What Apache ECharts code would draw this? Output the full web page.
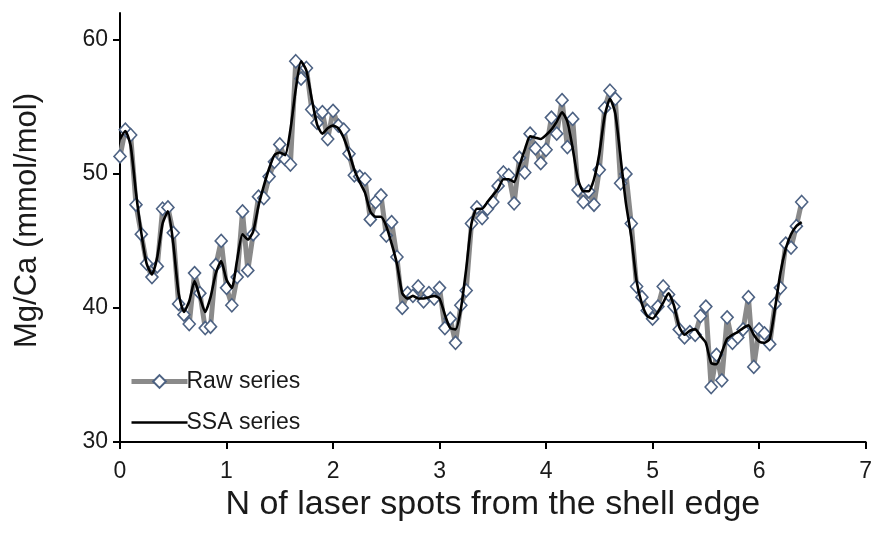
<!DOCTYPE html>
<html>
<head>
<meta charset="utf-8">
<script src="https://cdn.jsdelivr.net/npm/echarts@6/dist/echarts.min.js"></script>
<style>
html,body{margin:0;padding:0;background:#fff;}
#chart{width:875px;height:534px;}
</style>
</head>
<body>
<div id="chart"></div>
<script>
// N of laser spots from the shell edge
const spotPos = [
0.00,0.05,0.10,0.15,0.20,0.25,0.30,0.35,0.40,0.45,
0.50,0.55,0.60,0.65,0.70,0.75,0.80,0.85,0.90,0.95,
1.00,1.05,1.10,1.15,1.20,1.25,1.30,1.35,1.40,1.45,
1.50,1.55,1.60,1.65,1.70,1.75,1.80,1.85,1.90,1.95,
2.00,2.05,2.10,2.15,2.20,2.25,2.30,2.35,2.40,2.45,
2.50,2.55,2.60,2.65,2.70,2.75,2.80,2.85,2.90,2.95,
3.00,3.05,3.10,3.15,3.20,3.25,3.30,3.35,3.40,3.45,
3.50,3.55,3.60,3.65,3.70,3.75,3.80,3.85,3.90,3.95,
4.00,4.05,4.10,4.15,4.20,4.25,4.30,4.35,4.40,4.45,
4.50,4.55,4.60,4.65,4.70,4.75,4.80,4.85,4.90,4.95,
5.00,5.05,5.10,5.15,5.20,5.25,5.30,5.35,5.40,5.45,
5.50,5.55,5.60,5.65,5.70,5.75,5.80,5.85,5.90,5.95,
6.00,6.05,6.10,6.15,6.20,6.25,6.30,6.35,6.40
];
// Raw Mg/Ca (mmol/mol)
const rawSeries = [
51.3,53.3,52.9,47.7,45.5,43.3,42.3,43.1,47.4,47.5,
45.6,40.3,39.5,38.8,42.6,41.1,38.5,38.6,43.2,45.0,
41.5,40.2,42.3,47.2,42.8,45.5,48.3,48.2,49.8,50.9,
52.2,51.1,50.7,58.4,57.1,57.9,54.8,53.8,54.6,52.6,
54.7,53.6,53.3,51.5,49.9,49.8,49.6,46.6,47.9,48.4,
45.4,46.4,43.8,40.0,41.1,40.9,41.6,40.5,41.1,40.7,
41.5,38.5,39.2,37.4,40.2,41.3,46.3,47.5,46.7,47.4,
47.9,49.1,50.1,49.9,47.8,51.2,50.1,53.0,51.9,50.8,
51.8,54.2,53.0,55.5,52.0,54.1,48.8,47.9,48.7,47.7,
50.3,54.9,56.2,55.6,49.3,50.0,46.3,41.6,40.8,39.8,
39.2,40.1,41.6,41.0,40.1,38.4,37.8,38.2,38.0,39.4,
40.1,34.1,36.5,34.6,39.3,37.4,37.8,38.4,40.8,35.6,
38.4,38.1,37.3,40.3,41.5,44.8,44.5,46.1,47.9
];
// SSA-reconstructed Mg/Ca
const ssaSeries = [
52.6,53.2,52.1,48.6,45.6,43.3,42.5,43.8,46.3,47.2,
44.8,41.1,39.7,40.5,42.0,40.8,39.7,40.8,42.6,43.5,
42.1,41.5,43.6,45.5,45.1,45.7,47.6,49.1,50.4,51.4,
51.6,51.4,53.3,56.3,58.4,57.7,55.6,53.7,53.0,53.4,
53.6,53.4,52.7,51.6,50.3,49.4,48.6,47.2,46.8,46.8,
46.1,44.8,43.3,41.1,40.7,40.9,40.7,40.7,40.8,40.9,
40.7,39.5,38.5,38.4,39.9,42.9,46.3,47.4,47.4,47.9,
48.4,48.9,49.6,49.6,49.4,50.6,51.8,52.8,52.7,52.6,
52.9,53.3,53.9,54.6,53.9,51.9,49.6,48.7,48.7,49.6,
51.5,54.3,55.6,54.5,51.2,47.8,45.3,42.0,40.3,39.4,
39.2,39.7,40.4,41.1,40.2,38.6,38.0,38.3,38.4,37.9,
37.4,35.9,35.8,36.7,37.7,38.0,38.2,38.5,38.7,38.0,
37.5,37.4,37.7,40.0,42.6,44.4,45.5,46.1,46.4
];
const yTicks = [30, 40, 50, 60];
const xTicks = [0, 1, 2, 3, 4, 5, 6, 7];

const rawData = spotPos.map((x, i) => [x, rawSeries[i]]);
const ssaData = spotPos.map((x, i) => [x, ssaSeries[i]]);

const FONT = '"Liberation Sans", Arial, sans-serif';
const chart = echarts.init(document.getElementById('chart'), null, {renderer: 'canvas'});
chart.setOption({
  backgroundColor: '#ffffff',
  animation: false,
  grid: {left: 120, right: 7, top: 13, bottom: 92, containLabel: false},
  legend: {
    orient: 'vertical',
    left: 124,
    top: 365,
    itemWidth: 56,
    itemHeight: 16,
    itemGap: 18,
    textStyle: {fontFamily: FONT, fontSize: 23, color: '#1a1a1a', padding: [0, 0, 0, -6]},
    data: [
      {name: 'Raw series', lineStyle: {width: 5, color: '#8a8a8a'}},
      {name: 'SSA series', itemStyle: {opacity: 0}, lineStyle: {width: 2.6, color: '#000'}}
    ]
  },
  xAxis: {
    type: 'value',
    min: 0, max: 7, interval: 1,
    name: 'N of laser spots from the shell edge',
    nameLocation: 'middle',
    nameGap: 46,
    nameTextStyle: {fontFamily: FONT, fontSize: 34, color: '#1a1a1a'},
    axisLine: {show: true, onZero: false, lineStyle: {color: '#000', width: 2}},
    axisTick: {show: true, length: 7, lineStyle: {color: '#000', width: 2}, customValues: xTicks},
    axisLabel: {fontFamily: FONT, fontSize: 23, color: '#1a1a1a', margin: 18, customValues: xTicks},
    splitLine: {show: false}
  },
  yAxis: {
    type: 'value',
    min: 30, max: 62, interval: 10,
    name: 'Mg/Ca (mmol/mol)',
    nameLocation: 'middle',
    nameGap: 77,
    nameTextStyle: {fontFamily: FONT, fontSize: 31, color: '#1a1a1a', padding: [0, 0, 0, 14]},
    axisLine: {show: true, onZero: false, lineStyle: {color: '#000', width: 2}},
    axisTick: {show: true, length: 7, lineStyle: {color: '#000', width: 2}, customValues: yTicks},
    axisLabel: {fontFamily: FONT, fontSize: 23, color: '#1a1a1a', margin: 12, customValues: yTicks,
      formatter: v => (yTicks.indexOf(v) >= 0 ? String(v) : '')},
    splitLine: {show: false}
  },
  series: [
    {
      name: 'Raw series',
      type: 'line',
      data: rawData,
      z: 2,
      symbol: 'diamond',
      symbolSize: [12, 13],
      showSymbol: true,
      showAllSymbol: true,
      lineStyle: {color: '#8a8a8a', width: 5},
      itemStyle: {color: '#ffffff', borderColor: '#4d6283', borderWidth: 1.6}
    },
    {
      name: 'SSA series',
      type: 'line',
      data: ssaData,
      z: 3,
      symbol: 'none',
      smooth: 0.2,
      lineStyle: {color: '#000000', width: 2.6},
      itemStyle: {color: '#000000'}
    }
  ]
});
</script>
</body>
</html>
